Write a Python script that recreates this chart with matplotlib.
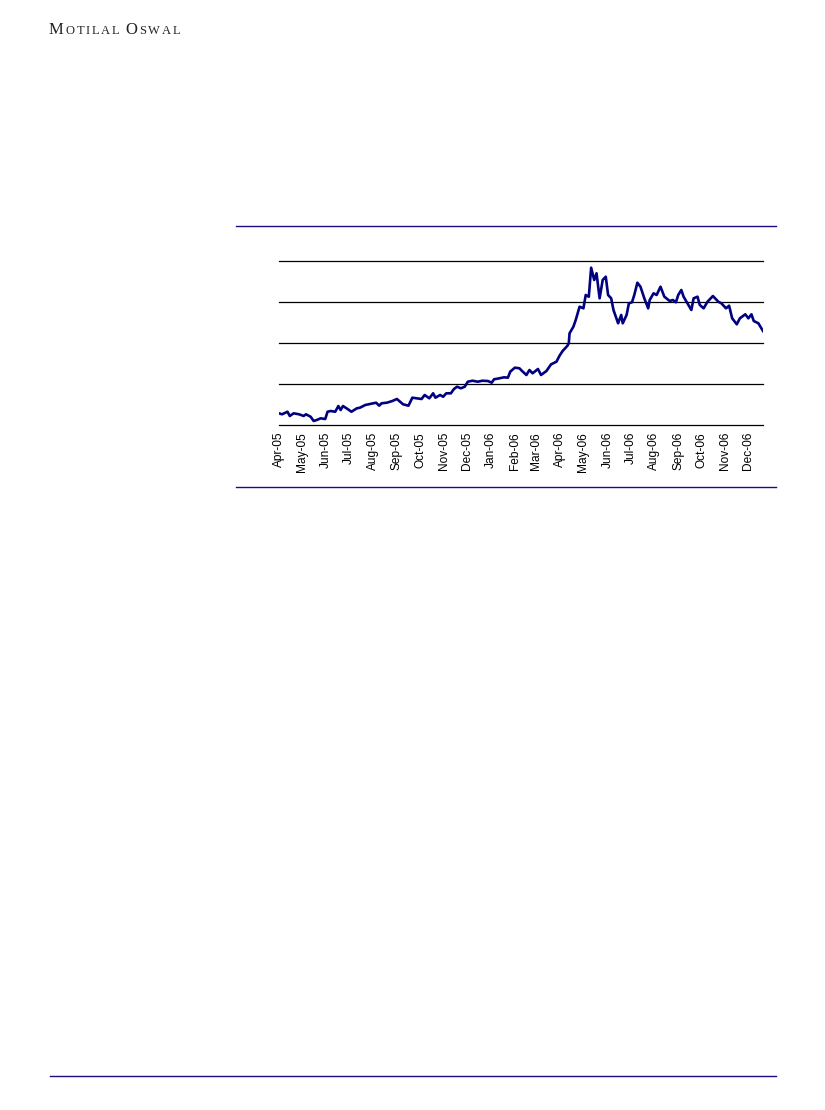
import numpy as np
import pandas as pd
import matplotlib
matplotlib.use('Agg')
import matplotlib.pyplot as plt
import matplotlib.dates as mdates
from matplotlib.lines import Line2D
from matplotlib.offsetbox import TextArea, HPacker, AnchoredOffsetbox

# Share price (arbitrary scale: gridlines every 100)
dates = [
    '2005-04-01', '2005-04-05', '2005-04-12', '2005-04-15', '2005-04-20', '2005-04-27',
    '2005-05-03', '2005-05-06', '2005-05-12', '2005-05-16', '2005-05-20', '2005-05-25',
    '2005-05-31', '2005-06-03', '2005-06-07', '2005-06-13', '2005-06-17', '2005-06-20',
    '2005-06-23', '2005-06-29', '2005-07-04', '2005-07-11', '2005-07-15', '2005-07-22',
    '2005-08-01', '2005-08-05', '2005-08-09', '2005-08-12', '2005-08-19', '2005-08-26',
    '2005-09-01', '2005-09-06', '2005-09-09', '2005-09-16', '2005-09-21', '2005-09-27',
    '2005-10-03', '2005-10-07', '2005-10-13', '2005-10-18', '2005-10-21', '2005-10-27',
    '2005-10-31', '2005-11-04', '2005-11-10', '2005-11-14', '2005-11-18', '2005-11-23',
    '2005-11-28', '2005-12-02', '2005-12-08', '2005-12-15', '2005-12-21', '2005-12-28',
    '2006-01-02', '2006-01-05', '2006-01-12', '2006-01-18', '2006-01-23', '2006-01-26',
    '2006-02-01', '2006-02-07', '2006-02-10', '2006-02-16', '2006-02-20', '2006-02-24',
    '2006-03-03', '2006-03-07', '2006-03-14', '2006-03-20', '2006-03-27', '2006-03-31',
    '2006-04-04', '2006-04-10', '2006-04-12', '2006-04-13', '2006-04-18', '2006-04-21',
    '2006-04-26', '2006-05-01', '2006-05-04', '2006-05-08', '2006-05-11', '2006-05-15',
    '2006-05-18', '2006-05-22', '2006-05-26', '2006-05-30', '2006-06-02', '2006-06-06',
    '2006-06-09', '2006-06-15', '2006-06-19', '2006-06-21', '2006-06-26', '2006-06-29',
    '2006-07-03', '2006-07-06', '2006-07-10', '2006-07-14', '2006-07-19', '2006-07-24',
    '2006-07-26', '2006-07-31', '2006-08-04', '2006-08-09', '2006-08-14', '2006-08-21',
    '2006-08-25', '2006-08-29', '2006-09-01', '2006-09-05', '2006-09-08', '2006-09-13',
    '2006-09-18', '2006-09-21', '2006-09-26', '2006-09-29', '2006-10-04', '2006-10-09',
    '2006-10-16', '2006-10-23', '2006-10-27', '2006-11-02', '2006-11-06', '2006-11-10',
    '2006-11-16', '2006-11-20', '2006-11-27', '2006-12-01', '2006-12-05', '2006-12-08',
    '2006-12-14', '2006-12-20',
]
prices = [
    28.5, 26.1, 32.4, 22.0, 28.5, 26.1,
    22.0, 26.1, 20.2, 9.8, 12.2, 16.3,
    14.6, 32.4, 34.1, 32.4, 46.3, 36.6,
    46.3, 39.0, 32.4, 40.7, 42.2, 48.8,
    52.9, 54.4, 47.1, 52.9, 54.4, 58.5,
    63.4, 55.4, 50.5, 47.1, 66.6, 65.1,
    63.4, 73.2, 65.1, 77.3, 66.6, 73.2,
    69.0, 77.3, 77.3, 87.8, 93.4, 89.5,
    93.4, 105.6, 108.0, 105.6, 108.0, 107.3,
    103.2, 111.5, 113.9, 116.3, 115.4, 130.0,
    139.8, 138.3, 132.4, 122.0, 134.1, 126.1,
    136.6, 122.0, 131.7, 148.0, 154.4, 169.0,
    180.5, 192.7, 199.3, 223.7, 239.8, 256.1,
    288.5, 284.6, 317.1, 312.9, 383.7, 353.7,
    370.0, 309.0, 353.7, 361.7, 317.1, 309.0,
    280.5, 248.1, 268.3, 248.1, 268.3, 296.8,
    299.3, 317.1, 347.1, 337.3, 309.0, 284.6,
    304.9, 321.2, 317.1, 337.3, 312.9, 302.4,
    304.9, 299.3, 317.1, 329.3, 312.9, 296.8,
    280.5, 309.0, 312.9, 292.7, 284.6, 300.7,
    314.6, 300.7, 296.8, 284.6, 291.0, 260.2,
    245.6, 260.2, 270.0, 260.2, 270.0, 253.7,
    248.1, 229.3,
]
y_grid = [0, 100, 200, 300, 400]
x_start, x_end = '2005-04-01', '2006-12-20'

navy = '#000080'
rule = '#1F0B80'

plt.rcParams['font.family'] = ['Liberation Sans', 'DejaVu Sans']

fig = plt.figure(figsize=(8.25, 11.10), dpi=100)
W, H = 825, 1110

# page rules (pixel positions -> figure fraction)
def hrule(y, x0, x1, lw=1.0):
    fig.add_artist(Line2D([x0 / W, x1 / W], [1 - y / H, 1 - y / H],
                          transform=fig.transFigure, color=rule, lw=lw))

hrule(225.5, 236, 776)
hrule(486.5, 236, 776)
hrule(1075.5, 50, 776)

# header in small caps
def word(big, small):
    parts = [TextArea(big, textprops=dict(family='Liberation Serif', size=12, color='#222222'))]
    for ch in small:
        parts.append(TextArea(ch, textprops=dict(family='Liberation Serif', size=9, color='#222222')))
    return HPacker(children=parts, align='baseline', pad=0, sep=1.3)

header = HPacker(children=[word('M', 'OTILAL'), word('O', 'SWAL')],
                 align='baseline', pad=0, sep=4.5)
anch = AnchoredOffsetbox(loc='upper left', child=header, pad=0, borderpad=0,
                         frameon=False, bbox_to_anchor=(49 / W, 1 - 22 / H),
                         bbox_transform=fig.transFigure)
fig.add_artist(anch)

# chart
ax = fig.add_axes([279 / W, 1 - 425 / H, (763 - 279) / W, (425 - 261) / H])
x = pd.to_datetime(dates)
ax.plot(x, prices, color=navy, lw=1.9, solid_joinstyle='round')
for g in y_grid:
    ax.axhline(g, color='black', lw=0.9, zorder=0, clip_on=False)

ax.set_xlim(pd.Timestamp(x_start), pd.Timestamp(x_end))
ax.set_ylim(y_grid[0], y_grid[-1])
for s in ax.spines.values():
    s.set_visible(False)
ax.set_yticks([])
ax.xaxis.set_major_locator(mdates.MonthLocator())
ax.xaxis.set_major_formatter(mdates.DateFormatter('%b-%y'))
ax.tick_params(axis='x', length=0, pad=5, labelsize=8.6, labelrotation=90)
ax.patch.set_alpha(0)

fig.savefig('out.png', dpi=100)
